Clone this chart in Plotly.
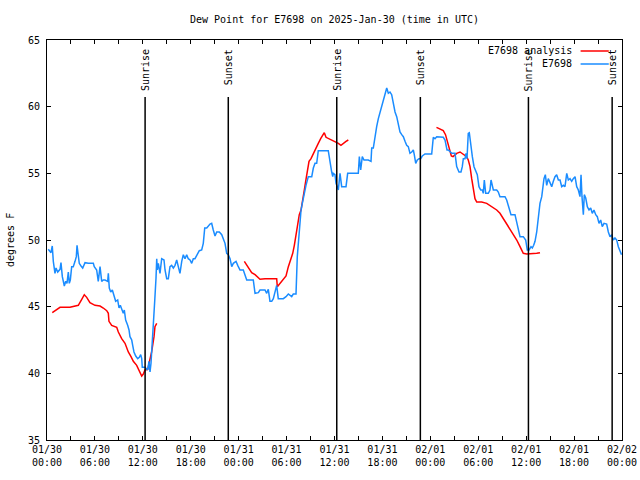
import plotly.graph_objects as go
import pandas as pd

START = pd.Timestamp("2025-01-30 00:00")

# Observed dew point (E7698): hours since 2025-01-30 00:00 UTC, degrees F
obs_hours = [0.16, 0.5, 0.66, 0.79, 1.0, 1.13, 1.34, 1.63, 1.75, 1.92, 2.17, 2.34, 2.5, 2.67, 2.79, 2.92,
             3.09, 3.29, 3.51, 3.67, 3.76, 3.88, 4.04, 4.26, 4.47, 4.76, 5.17, 5.8, 5.92, 6.22, 6.42, 6.64,
             6.76, 6.85, 7.05, 7.26, 7.6, 7.68, 7.8, 7.98, 8.18, 8.39, 8.6, 8.85, 9.02, 9.18, 9.35, 9.55,
             9.68, 9.85, 10.1, 10.27, 10.39, 10.61, 10.73, 10.89, 11.11, 11.36, 11.56, 11.73, 11.86, 11.93,
             12.27, 12.61, 12.77, 12.9, 13.02, 13.19, 13.36, 13.49, 13.65, 13.74, 13.81, 13.94, 14.15, 14.36,
             14.65, 14.78, 14.99, 15.19, 15.4, 15.61, 15.82, 16.03, 16.24, 16.44, 16.65, 16.87, 17.07, 17.28,
             17.49, 17.69, 17.91, 18.12, 18.32, 18.53, 18.75, 19.07, 19.37, 19.57, 19.75, 20.0, 20.41, 20.62,
             20.82, 21.04, 21.25, 21.58, 21.88, 22.08, 22.29, 22.5, 22.7, 22.92, 23.13, 23.33, 23.67, 23.88,
             24.17, 24.58, 25.01, 25.83, 26.05, 26.46, 26.67, 27.3, 27.51, 27.71, 27.92, 28.14, 28.34, 28.76,
             28.96, 29.59, 29.93, 30.22, 30.64, 30.84, 31.18, 31.34, 31.59, 31.81, 31.97, 32.18, 32.43, 32.72,
             33.15, 33.35, 33.56, 33.77, 33.97, 35.22, 35.44, 35.65, 35.78, 35.85, 36.06, 36.19, 36.35, 36.48,
             36.69, 36.81, 36.9, 37.44, 37.65, 38.98, 39.11, 39.28, 39.48, 39.69, 40.23, 40.57, 40.66, 40.86,
             41.07, 41.28, 41.49, 41.7, 41.91, 42.11, 42.32, 42.54, 42.74, 42.95, 43.16, 43.36, 43.58, 43.79,
             43.99, 44.2, 44.42, 44.62, 44.83, 45.04, 45.24, 45.45, 45.67, 45.87, 45.99, 46.17, 46.37, 46.58,
             46.79, 46.99, 47.33, 48.17, 48.37, 48.58, 48.8, 49.21, 49.62, 49.84, 49.96, 50.09, 50.25, 50.46,
             50.68, 51.09, 51.3, 51.59, 51.84, 52.0, 52.13, 52.34, 52.47, 52.59, 52.75, 52.88, 53.06, 53.26,
             53.47, 53.68, 53.88, 54.09, 54.31, 54.51, 54.63, 54.76, 54.93, 55.26, 55.47, 55.6, 55.76, 55.89,
             56.31, 56.51, 56.72, 57.35, 57.56, 57.85, 58.1, 58.6, 58.82, 59.02, 59.23, 59.64, 59.94, 60.14,
             60.36, 60.61, 60.77, 60.94, 61.11, 61.32, 61.52, 61.73, 61.95, 62.07, 62.23, 62.4, 62.57, 62.77,
             62.99, 63.2, 63.4, 63.61, 63.82, 64.03, 64.24, 64.45, 64.65, 64.86, 65.08, 65.28, 65.49, 65.7,
             65.9, 66.12, 66.33, 66.53, 66.74, 66.87, 66.99, 67.16, 67.28, 67.46, 67.66, 67.87, 68.08, 68.28,
             68.49, 68.71, 68.91, 69.12, 69.33, 69.53, 69.75, 70.08, 70.29, 70.5, 70.71, 70.91, 71.12, 71.34,
             71.54, 71.75, 71.94]
obs_values = [49.3, 49.05, 49.55, 48.4, 47.5, 47.9, 47.6, 47.8, 48.3, 47.25, 46.55, 46.9, 46.75, 47.6, 46.75, 47.0,
              48.0, 48.0, 48.4, 48.75, 49.6, 48.75, 48.25, 48.05, 47.9, 48.3, 48.25, 48.25, 48.0, 47.75, 46.9, 48.0,
              47.25, 46.9, 47.0, 47.0, 46.9, 47.5, 46.4, 46.1, 46.25, 45.9, 45.4, 45.5, 44.9, 45.1, 44.75, 44.5,
              44.75, 44.0, 43.6, 43.25, 42.75, 42.5, 42.1, 41.6, 41.3, 41.1, 41.2, 41.4, 41.1, 40.45,
              40.45, 40.25, 40.9, 40.1, 40.75, 42.25, 44.0, 45.45, 47.15, 48.6, 47.75, 48.25, 47.5, 48.6,
              48.5, 47.75, 47.1, 47.1, 48.0, 48.1, 47.9, 48.1, 48.5, 48.1, 47.5, 48.4, 48.9, 48.6,
              48.9, 48.6, 48.5, 48.25, 48.6, 48.6, 48.9, 49.2, 49.25, 49.75, 50.9, 50.9, 51.2, 51.25,
              50.75, 50.3, 50.6, 50.6, 50.4, 50.0, 49.75, 49.0, 48.9, 48.6, 48.0, 48.25, 48.4, 48.1,
              47.75, 47.75, 47.0, 47.0, 46.0, 46.05, 46.25, 46.25, 46.0, 46.3, 45.4, 45.4, 45.6, 46.6,
              45.6, 45.6, 45.75, 45.95, 45.75, 45.95, 45.95, 48.75, 50.75, 52.25, 52.75, 53.5, 54.1, 54.75,
              54.75, 55.4, 55.75, 55.75, 56.7, 56.7, 55.75, 55.1, 54.75, 55.0, 54.9, 54.25, 54.0, 53.75,
              55.0, 54.1, 54.0, 54.0, 55.0, 55.0, 56.25, 55.25, 56.25, 56.0, 56.0, 55.9, 56.9, 56.9,
              57.9, 58.5, 59.1, 59.6, 60.1, 60.6, 61.1, 61.4, 61.0, 61.1, 60.9, 60.25, 59.6, 59.25,
              58.75, 58.1, 57.9, 57.75, 57.4, 57.1, 57.0, 56.5, 56.6, 56.75, 56.4, 55.75, 56.0, 56.1,
              56.1, 56.3, 56.45, 56.45, 57.7, 57.6, 57.75, 57.75, 57.7, 57.5, 57.1, 56.75, 56.75, 56.6,
              56.5, 56.5, 55.5, 55.1, 55.1, 55.5, 56.1, 56.1, 56.5, 56.1, 58.0, 58.05, 57.0, 56.25,
              55.5, 55.25, 54.9, 54.0, 53.75, 53.75, 53.5, 54.5, 53.5, 53.5, 53.75, 54.5, 54.0, 53.75,
              53.75, 53.6, 53.25, 53.25, 53.0, 52.5, 51.9, 51.9, 51.25, 50.75, 50.25, 50.25, 50.0, 49.25,
              49.25, 49.5, 49.4, 49.6, 49.9, 50.6, 51.5, 52.75, 53.25, 54.0, 54.6, 54.9, 54.1, 54.6,
              54.25, 54.0, 54.4, 54.75, 54.9, 54.5, 54.5, 54.0, 54.1, 54.0, 55.0, 54.5, 54.6, 54.4,
              54.6, 54.75, 54.0, 53.75, 53.25, 54.9, 53.25, 51.9, 53.4, 53.15, 52.5, 52.25, 52.4, 52.0,
              52.25, 51.9, 51.75, 51.25, 51.5, 51.0, 51.25, 51.2, 50.6, 50.25, 50.4, 50.0, 50.15, 50.0,
              49.5, 49.1, 48.9]

# Analysis dew point (three separate runs)
ana1_hours = [0.66, 1.0, 1.41, 1.63, 2.88, 3.51, 3.92, 4.35, 4.67, 4.97, 5.38, 6.01, 6.64, 7.05, 7.48, 7.68,
              7.76, 8.1, 8.73, 8.93, 9.35, 9.77, 10.18, 10.52, 10.81, 11.23, 11.65, 11.86, 12.06, 12.27, 12.61,
              12.83, 13.1, 13.4, 13.52, 13.74]
ana1_values = [44.55, 44.7, 44.9, 44.95, 44.95, 45.05, 45.1, 45.55, 45.9, 45.7, 45.3, 45.1, 45.05, 44.9, 44.7, 44.5,
               43.9, 43.6, 43.45, 43.1, 42.6, 42.25, 41.6, 41.25, 40.9, 40.6, 40.0, 39.8, 39.95, 40.25, 40.3,
               40.9, 41.6, 42.75, 43.5, 43.75]
ana2_hours = [24.71, 25.01, 25.33, 25.63, 26.05, 26.33, 26.67, 27.3, 28.76, 28.84, 29.18, 29.59, 29.93, 30.22,
              30.52, 30.77, 30.97, 31.18, 31.39, 31.59, 31.81, 32.02, 32.22, 32.39, 32.59, 32.81, 33.06, 33.35,
              33.68, 33.97, 34.27, 34.52, 34.72, 34.94, 35.44, 36.06, 36.48, 36.81, 37.1, 37.44, 37.73]
ana2_values = [48.4, 48.1, 47.75, 47.55, 47.4, 47.25, 47.05, 47.1, 47.1, 46.5, 46.75, 47.0, 47.3, 48.0,
               48.5, 49.0, 49.6, 50.4, 51.25, 51.9, 52.25, 52.9, 53.75, 54.4, 55.25, 55.9, 56.1, 56.5,
               56.9, 57.25, 57.6, 57.9, 58.05, 57.7, 57.55, 57.4, 57.25, 57.1, 57.25, 57.4, 57.5]
ana3_hours = [48.77, 49.21, 49.62, 49.9, 50.18, 50.38, 50.63, 50.84, 51.3, 51.72, 52.13, 52.55, 52.75, 52.97,
              53.18, 53.38, 53.59, 53.81, 54.43, 55.06, 55.47, 55.89, 56.31, 56.72, 57.14, 57.56, 57.98, 58.39,
              58.82, 59.23, 59.64, 60.07, 60.69, 61.11, 61.32, 61.73]
ana3_values = [58.45, 58.3, 58.2, 57.9, 57.25, 56.8, 56.3, 56.25, 56.5, 56.6, 56.45, 56.25, 56.0, 55.5,
               54.6, 53.75, 53.1, 52.85, 52.85, 52.75, 52.6, 52.45, 52.25, 52.0, 51.6, 51.1, 50.75, 50.4,
               50.0, 49.5, 49.0, 48.95, 48.95, 48.95, 49.0, 49.05]

# Sun events (UTC)
event_times = ["2025-01-30 12:17", "2025-01-30 22:42", "2025-01-31 12:17",
               "2025-01-31 22:45", "2025-02-01 12:17", "2025-02-01 22:46"]
event_labels = ["Sunrise", "Sunset", "Sunrise", "Sunset", "Sunrise", "Sunset"]

TITLE = "Dew Point for E7698 on 2025-Jan-30 (time in UTC)"
Y_LABEL = "degrees F"
LEGEND_NAMES = ["E7698 analysis", "E7698"]
RED = "#ff0000"
BLUE = "#1a8cff"
FONT = "DejaVu Sans Mono"


def to_time(hours):
    return list(START + pd.to_timedelta(hours, unit="h"))


ana_x, ana_y = [], []
for hs, vs in [(ana1_hours, ana1_values), (ana2_hours, ana2_values), (ana3_hours, ana3_values)]:
    ana_x += to_time(hs) + [None]
    ana_y += vs + [None]

fig = go.Figure()
fig.add_trace(go.Scatter(x=ana_x, y=ana_y, mode="lines", name=LEGEND_NAMES[0],
                         line=dict(color=RED, width=1.5), connectgaps=False, showlegend=False))
fig.add_trace(go.Scatter(x=to_time(obs_hours), y=obs_values, mode="lines", name=LEGEND_NAMES[1],
                         line=dict(color=BLUE, width=1.5), showlegend=False))

for t, lab in zip(event_times, event_labels):
    fig.add_shape(type="line", xref="x", yref="paper", x0=t, x1=t, y0=0, y1=0.8575,
                  line=dict(color="black", width=1.5))
    fig.add_annotation(x=t, xref="x", y=0.9825, yref="paper", text=lab, textangle=-90,
                       showarrow=False, xanchor="center", yanchor="top", xshift=1,
                       font=dict(family=FONT, size=10, color="black"))

# legend drawn gnuplot-style (text right-aligned, sample line on the right)
for i, (name, col) in enumerate(zip(LEGEND_NAMES, [RED, BLUE])):
    yp = 0.9725 - i * 0.0325
    fig.add_annotation(x=0.9165, xref="paper", y=yp, yref="paper", text=name, showarrow=False,
                       xanchor="right", yanchor="middle", font=dict(family=FONT, size=10, color="black"))
    fig.add_shape(type="line", xref="paper", yref="paper", x0=0.928, x1=0.977, y0=yp, y1=yp,
                  line=dict(color=col, width=1.5))

fig.add_annotation(x=0, xref="paper", y=0.5, yref="paper", text=Y_LABEL, textangle=-90,
                   showarrow=False, xanchor="center", yanchor="middle", xshift=-37,
                   font=dict(family=FONT, size=10, color="black"))

fig.update_layout(
    width=640, height=480,
    margin=dict(l=47, r=18, t=40, b=40, autoexpand=False),
    paper_bgcolor="white", plot_bgcolor="white",
    font=dict(family=FONT, size=10, color="black"),
    title=dict(text=TITLE, x=0.5, xref="paper", y=1 - 19 / 480, yanchor="middle",
               font=dict(family=FONT, size=10, color="black")),
    showlegend=False,
)
fig.update_xaxes(
    type="date", range=["2025-01-30 00:00", "2025-02-02 00:00"], automargin=False,
    dtick=6 * 3600 * 1000, tick0="2025-01-30 00:00", tickformat="%m/%d<br>%H:%M",
    ticks="inside", ticklen=4, tickcolor="black", showgrid=False, zeroline=False,
    showline=True, linecolor="black", linewidth=1, mirror="ticks",
    minor=dict(dtick=3 * 3600 * 1000, ticks="inside", ticklen=4, tickcolor="black", showgrid=False),
    tickfont=dict(family=FONT, size=10, color="black"),
)
fig.update_yaxes(
    range=[35, 65], dtick=5, ticks="inside", ticklen=4, tickcolor="black", automargin=False,
    showgrid=False, zeroline=False, showline=True, linecolor="black", linewidth=1, mirror="ticks",
    ticklabelstandoff=4, tickfont=dict(family=FONT, size=10, color="black"),
)

fig.write_html("out.html", config={"displayModeBar": False},
               post_script="document.body.style.margin='0';")
